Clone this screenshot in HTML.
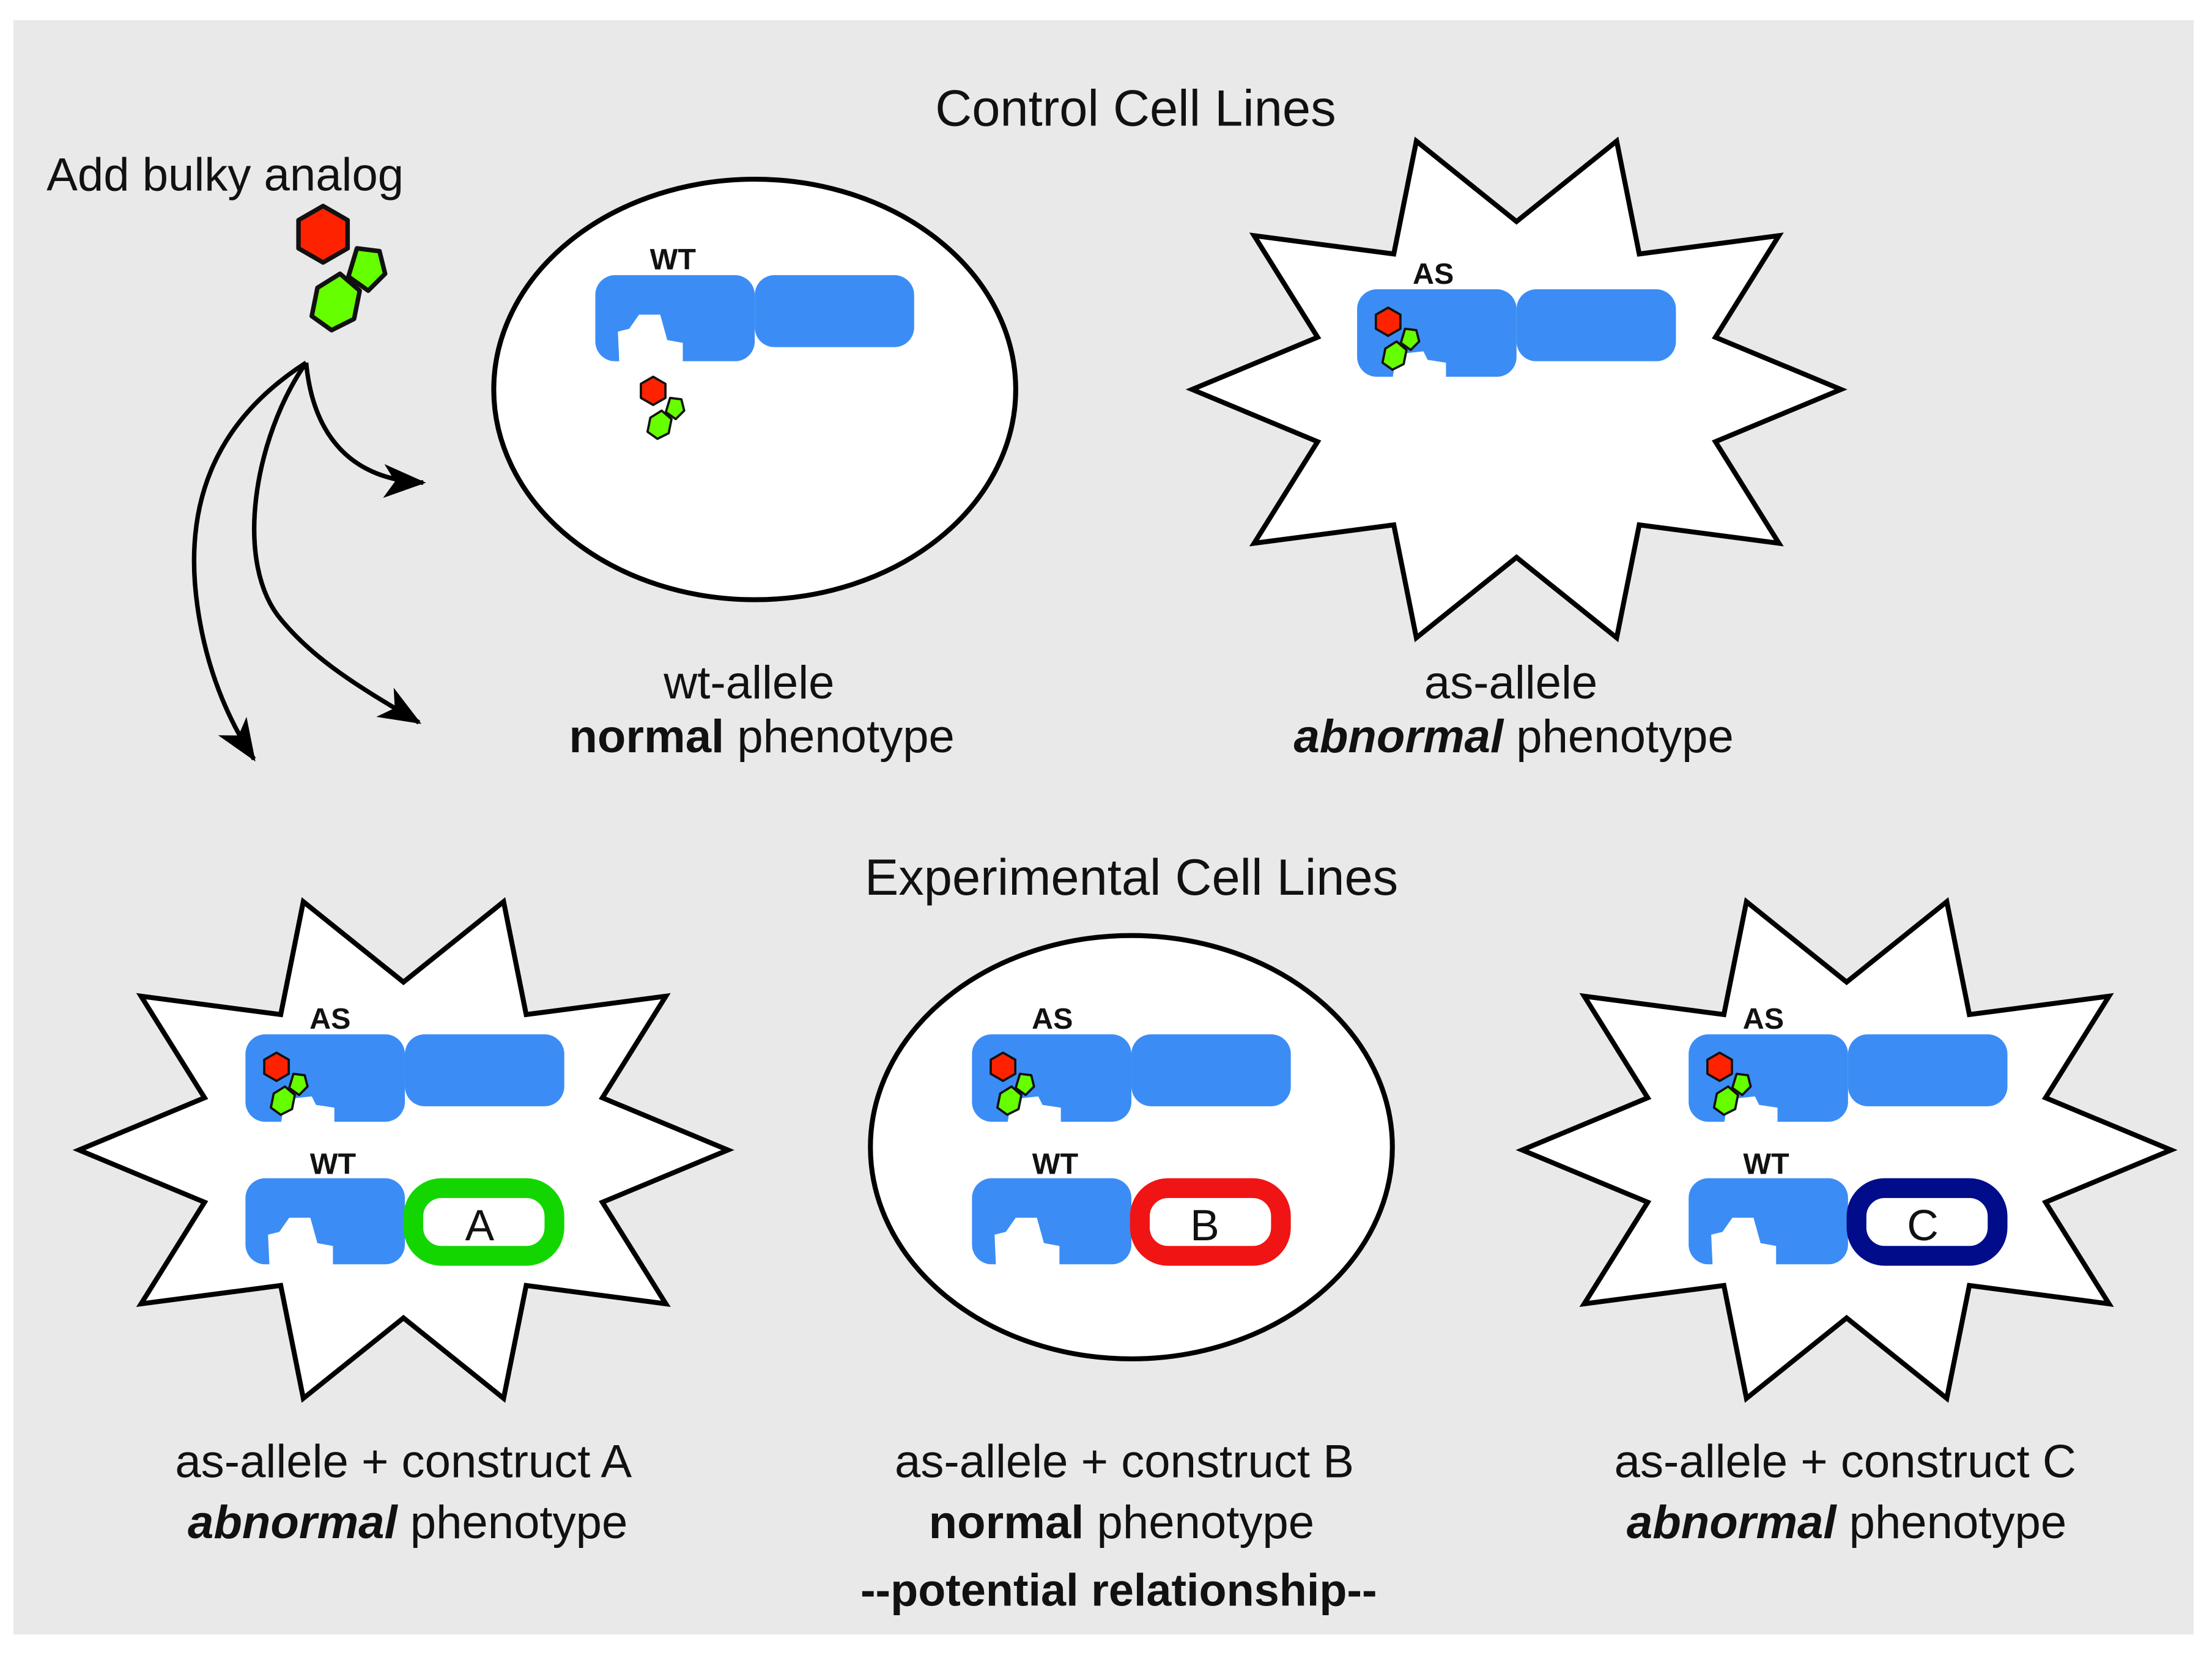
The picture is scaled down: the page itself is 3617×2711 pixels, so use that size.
<!DOCTYPE html>
<html><head><meta charset="utf-8"><style>
html,body{margin:0;padding:0;background:#fff;}
svg{display:block;}
text{font-family:"Liberation Sans",Arial,sans-serif;fill:#111;}
</style></head><body>
<svg width="3617" height="2711" viewBox="0 0 1568 1175" preserveAspectRatio="none" xmlns="http://www.w3.org/2000/svg">
<defs>
<g id="mol">
 <polygon points="0,-10 8.7,-5 8.7,5 0,10 -8.7,5 -8.7,-5" fill="#ff2200" stroke="#111" stroke-width="1.6" stroke-linejoin="round"/>
 <polygon points="12,5 20,6 22,14 16,20 9,15" fill="#66ff00" stroke="#111" stroke-width="1.6" stroke-linejoin="round"/>
 <polygon points="6,14 13,20 11,30 3,34 -4,29 -2,19" fill="#66ff00" stroke="#111" stroke-width="1.6" stroke-linejoin="round"/>
</g>
<g id="star">
 <polygon points="230,0 141,37 186,109 87,96 71,176 0,119 -71,176 -87,96 -186,109 -141,37 -230,0 -141,-37 -186,-109 -87,-96 -71,-176 0,-119 71,-176 87,-96 186,-109 141,-37" fill="#fff" stroke="#000" stroke-width="3.5" stroke-linejoin="miter"/>
</g>
<g id="wtprot">
 <rect x="0" y="0" width="113" height="61" rx="14" fill="#3b8df5"/>
 <polygon points="17,62 16,40 24,38 31,28 46,28 51,46 62,48 62,63 17,63" fill="#fff"/>
</g>
<g id="asprot">
 <rect x="0" y="0" width="113" height="62" rx="14" fill="#3b8df5"/>
 <rect x="113" y="0" width="113" height="51" rx="14" fill="#3b8df5"/>
 <polygon points="28,46 47,44 50,50 63,52 63,64 25,64" fill="#fff"/>
 <use href="#mol" transform="translate(22,23)"/>
</g>
<marker id="ah" viewBox="0 0 30 24" refX="28" refY="12" markerWidth="30" markerHeight="24" markerUnits="userSpaceOnUse" orient="auto">
 <path d="M0,0 L30,12 L0,24 L8,12 z" fill="#000"/>
</marker>
</defs>

<rect x="9.5" y="14.3" width="1545.5" height="1144" fill="#e9e9e9"/>

<text x="805" y="89" font-size="36" text-anchor="middle">Control Cell Lines</text>
<text x="33" y="135" font-size="33">Add bulky analog</text>
<use href="#mol" transform="translate(229,166) scale(2)"/>

<g fill="none" stroke="#000" stroke-width="3.2">
 <path d="M217,257 C222,310 250,340 300,342" marker-end="url(#ah)"/>
 <path d="M217,257 C180,310 165,400 200,440 C225,470 260,490 297,512" marker-end="url(#ah)"/>
 <path d="M217,257 C150,300 130,360 140,430 C147,480 165,515 180,538" marker-end="url(#ah)"/>
</g>

<ellipse cx="535" cy="276" rx="185" ry="149" fill="#fff" stroke="#000" stroke-width="3.5"/>
<text x="477" y="191" font-size="21" font-weight="bold" text-anchor="middle">WT</text>
<use href="#wtprot" transform="translate(422,195)"/>
<rect x="535" y="195" width="113" height="51" rx="14" fill="#3b8df5"/>
<use href="#mol" transform="translate(463,277)"/>

<use href="#star" transform="translate(1075,276)"/>
<text x="1016" y="201" font-size="21" font-weight="bold" text-anchor="middle">AS</text>
<use href="#asprot" transform="translate(962,205)"/>

<text x="531" y="495" font-size="33" text-anchor="middle">wt-allele</text>
<text x="540" y="533" font-size="33" text-anchor="middle"><tspan font-weight="bold">normal</tspan> phenotype</text>
<text x="1071" y="495" font-size="33" text-anchor="middle">as-allele</text>
<text x="1073" y="533" font-size="33" text-anchor="middle"><tspan font-weight="bold" font-style="italic">abnormal</tspan> phenotype</text>

<text x="802" y="634" font-size="36" text-anchor="middle">Experimental Cell Lines</text>

<use href="#star" transform="translate(286,815)"/>
<text x="234" y="729" font-size="21" font-weight="bold" text-anchor="middle">AS</text>
<use href="#asprot" transform="translate(174,733)"/>
<text x="236" y="832" font-size="21" font-weight="bold" text-anchor="middle">WT</text>
<use href="#wtprot" transform="translate(174,835)"/>
<rect x="293" y="842" width="100" height="48" rx="20" fill="#fff" stroke="#13d600" stroke-width="14"/>
<text x="340" y="879" font-size="31" text-anchor="middle">A</text>

<ellipse cx="802" cy="813" rx="185" ry="150" fill="#fff" stroke="#000" stroke-width="3.5"/>
<text x="746" y="729" font-size="21" font-weight="bold" text-anchor="middle">AS</text>
<use href="#asprot" transform="translate(689,733)"/>
<text x="748" y="832" font-size="21" font-weight="bold" text-anchor="middle">WT</text>
<use href="#wtprot" transform="translate(689,835)"/>
<rect x="808" y="842" width="100" height="48" rx="20" fill="#fff" stroke="#f01414" stroke-width="14"/>
<text x="854" y="879" font-size="31" text-anchor="middle">B</text>

<use href="#star" transform="translate(1309,815)"/>
<text x="1250" y="729" font-size="21" font-weight="bold" text-anchor="middle">AS</text>
<use href="#asprot" transform="translate(1197,733)"/>
<text x="1252" y="832" font-size="21" font-weight="bold" text-anchor="middle">WT</text>
<use href="#wtprot" transform="translate(1197,835)"/>
<rect x="1316" y="842" width="100" height="48" rx="20" fill="#fff" stroke="#000c8a" stroke-width="14"/>
<text x="1363" y="879" font-size="31" text-anchor="middle">C</text>

<text x="286" y="1047" font-size="33" text-anchor="middle">as-allele + construct A</text>
<text x="289" y="1090" font-size="33" text-anchor="middle"><tspan font-weight="bold" font-style="italic">abnormal</tspan> phenotype</text>
<text x="797" y="1047" font-size="33" text-anchor="middle">as-allele + construct B</text>
<text x="795" y="1090" font-size="33" text-anchor="middle"><tspan font-weight="bold">normal</tspan> phenotype</text>
<text x="1308" y="1047" font-size="33" text-anchor="middle">as-allele + construct C</text>
<text x="1309" y="1090" font-size="33" text-anchor="middle"><tspan font-weight="bold" font-style="italic">abnormal</tspan> phenotype</text>
<text x="793" y="1138" font-size="32" font-weight="bold" text-anchor="middle">--potential relationship--</text>
</svg>
</body></html>
